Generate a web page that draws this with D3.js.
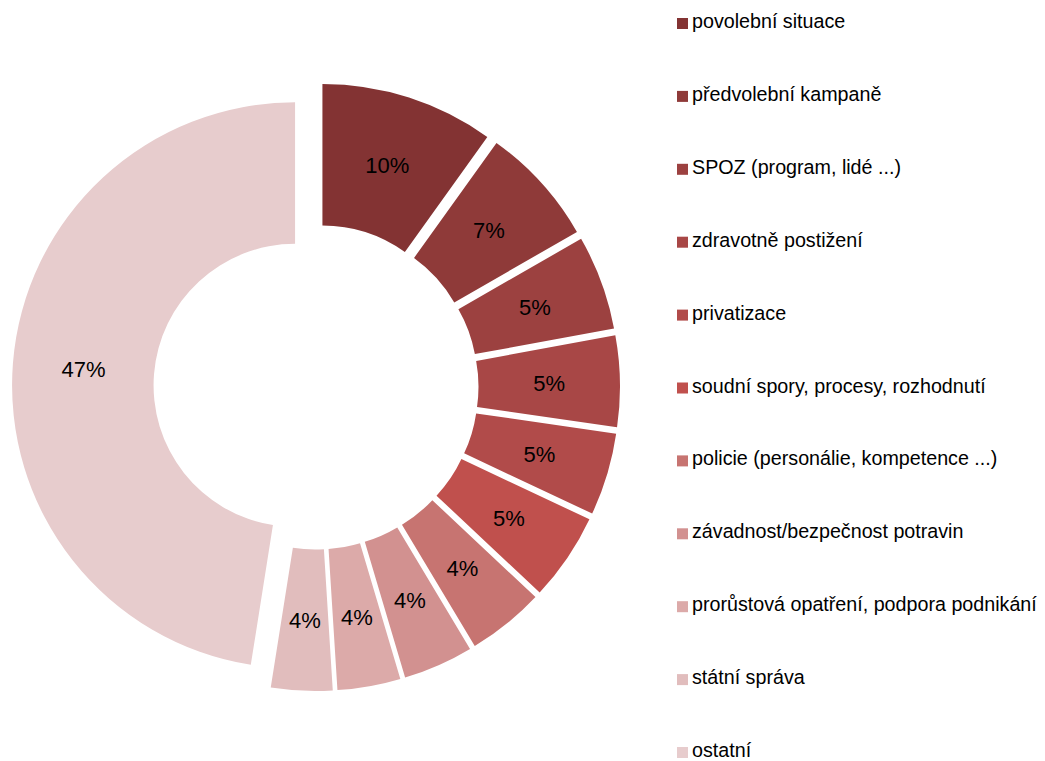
<!DOCTYPE html>
<html>
<head>
    <meta charset="utf-8" />
    <script src="https://d3js.org/d3.v7.min.js"></script>
    <title></title>
    <style>
        body { margin: 0; background: #fff; }
        text { font-family: "Liberation Sans", Arial, sans-serif; }
    </style>
</head>
<body>
    <svg id="chart"></svg>
    <script type="text/javascript">
        // data (shares in %)
        var categories = ["povolební situace", "předvolební kampaně", "SPOZ (program, lidé ...)",
            "zdravotně postižení", "privatizace", "soudní spory, procesy, rozhodnutí",
            "policie (personálie, kompetence ...)", "závadnost/bezpečnost potravin",
            "prorůstová opatření, podpora podnikání", "státní správa", "ostatní"];
        var values = [9.9, 6.8, 5.4, 5.2, 4.7, 5.0, 4.4, 4.0, 3.6, 3.5, 47.5];
        var labels = ["10%", "7%", "5%", "5%", "5%", "5%", "4%", "4%", "4%", "4%", "47%"];
        var colors = ["#833333", "#8f3a39", "#9c4140", "#a84746", "#b14b4a", "#c0504d",
            "#c77471", "#d29190", "#dcaaa9", "#e1bdbd", "#e7cccd"];

        var width = 1045;
        var height = 761;
        var cx = 316, cy = 387;
        var outerR = 283, innerR = 141.5;
        var explode = 21;

        var svg = d3.select('#chart').attr('width', width).attr('height', height);

        var rows = categories.map(function (c, i) {
            return { name: c, value: values[i], label: labels[i], color: colors[i] };
        });

        var pie = d3.pie().sort(null).value(function (d) { return d.value; });
        var arc = d3.arc().innerRadius(innerR).outerRadius(outerR);
        var arcs = pie(rows);

        var g = svg.append('g').attr('transform', 'translate(' + cx + ',' + cy + ')');

        // each slice is pushed out along its middle angle
        function shift(d) {
            var a = (d.startAngle + d.endAngle) / 2;
            return [explode * Math.sin(a), -explode * Math.cos(a)];
        }

        var slice = g.selectAll('.slice').data(arcs).enter().append('g')
            .attr('class', 'slice')
            .attr('transform', function (d) {
                var s = shift(d);
                return 'translate(' + s[0] + ',' + s[1] + ')';
            });

        slice.append('path')
            .attr('d', arc)
            .attr('fill', function (d) { return d.data.color; });

        slice.append('text')
            .attr('transform', function (d) {
                var c = arc.centroid(d);
                return 'translate(' + c[0] + ',' + c[1] + ')';
            })
            .attr('text-anchor', 'middle')
            .attr('dy', '0.36em')
            .style('font-size', '22px')
            .style('fill', '#000')
            .text(function (d) { return d.data.label; });

        // legend
        var legend = svg.append('g').attr('transform', 'translate(677,0)');
        var item = legend.selectAll('.item').data(rows).enter().append('g')
            .attr('class', 'item')
            .attr('transform', function (d, i) { return 'translate(0,' + (28 + i * 72.9) + ')'; });

        item.append('rect')
            .attr('x', 0).attr('y', -10)
            .attr('width', 11).attr('height', 11)
            .attr('fill', function (d) { return d.color; });

        item.append('text')
            .attr('x', 15).attr('y', 0)
            .style('font-size', '19.7px')
            .style('fill', '#000')
            .text(function (d) { return d.name; });
    </script>
</body>
</html>
